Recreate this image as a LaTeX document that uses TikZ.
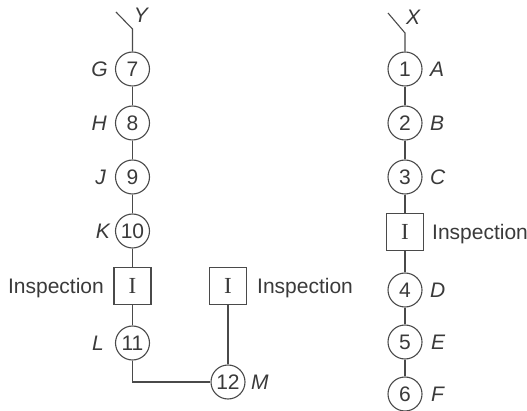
\documentclass[tikz,border=0pt]{standalone}
\usepackage{fontspec}
\setmainfont{Liberation Sans}
\newfontfamily\seriffont{Liberation Serif}
\definecolor{linegray}{HTML}{4A4A4A}
\definecolor{textgray}{HTML}{3A3A3A}
\begin{document}
\begin{tikzpicture}[x=1pt,y=-1pt,
  op/.style={circle,draw=linegray,line width=1.1pt,minimum size=34pt,inner sep=0pt,text=textgray,font=\fontsize{21}{21}\selectfont},
  insp/.style={rectangle,draw=linegray,line width=1.1pt,minimum size=37pt,inner sep=0pt,text=textgray,font=\seriffont\fontsize{23}{23}\selectfont},
  lbl/.style={text=textgray,font=\fontsize{21}{21}\selectfont\itshape,inner sep=0pt},
  txt/.style={text=textgray,font=\fontsize{21}{21}\selectfont,inner sep=0pt,text depth=0pt},
  conn/.style={draw=linegray,line width=1.1pt}]
\useasboundingbox (0,0) rectangle (527,411);
% left chain
\node[op] (c7) at (132.5,69) {7};
\node[op] (c8) at (132.5,123) {8};
\node[op] (c9) at (132.5,177) {9};
\node[op] (c10) at (132.5,231) {10};
\node[insp] (iL) at (132.5,286) {I};
\node[op] (c11) at (132.5,343) {11};
\node[op] (c12) at (228,382) {12};
\node[insp] (iM) at (228,286) {I};
% right chain
\node[op] (c1) at (405,69) {1};
\node[op] (c2) at (405,123) {2};
\node[op] (c3) at (405,177) {3};
\node[insp] (iR) at (405,232) {I};
\node[op] (c4) at (405,290) {4};
\node[op] (c5) at (405,342) {5};
\node[op] (c6) at (405,394) {6};
% stems
\coordinate (yt) at (132.5,29);
\coordinate (yd) at (116,12);
\coordinate (xt) at (405,33);
\coordinate (xd) at (388,13);
\node[lbl] (ly) at (141,15) {Y};
\node[lbl] (lx) at (413,17) {X};
% labels
\node[lbl,anchor=east] (lG) at (108,69) {G};
\node[lbl,anchor=east] (lH) at (107,123) {H};
\node[lbl,anchor=east] (lJ) at (106,177) {J};
\node[lbl,anchor=east] (lK) at (110,231) {K};
\node[lbl,anchor=east] (lL) at (104,343) {L};
\node[lbl,anchor=west] (lA) at (430,69) {A};
\node[lbl,anchor=west] (lB) at (430,123) {B};
\node[lbl,anchor=west] (lC) at (430,177) {C};
\node[lbl,anchor=west] (lD) at (430,290) {D};
\node[lbl,anchor=west] (lE) at (431,342) {E};
\node[lbl,anchor=west] (lF) at (431,394) {F};
\node[lbl,anchor=west] (lM) at (251,382) {M};
\node[txt,anchor=east] (tL) at (104,286) {Inspection};
\node[txt,anchor=west] (tM) at (257,286) {Inspection};
\node[txt,anchor=west] (tR) at (432,232) {Inspection};
% connectors
\draw[conn] (yd) -- (yt) -- (c7);
\draw[conn] (c7) -- (c8);
\draw[conn] (c8) -- (c9);
\draw[conn] (c9) -- (c10);
\draw[conn] (c10) -- (iL);
\draw[conn] (iL) -- (c11);
\draw[conn] (c11) |- (c12);
\draw[conn] (iM) -- (c12);
\draw[conn] (xd) -- (xt) -- (c1);
\draw[conn] (c1) -- (c2);
\draw[conn] (c2) -- (c3);
\draw[conn] (c3) -- (iR);
\draw[conn] (iR) -- (c4);
\draw[conn] (c4) -- (c5);
\draw[conn] (c5) -- (c6);
\end{tikzpicture}
\end{document}
